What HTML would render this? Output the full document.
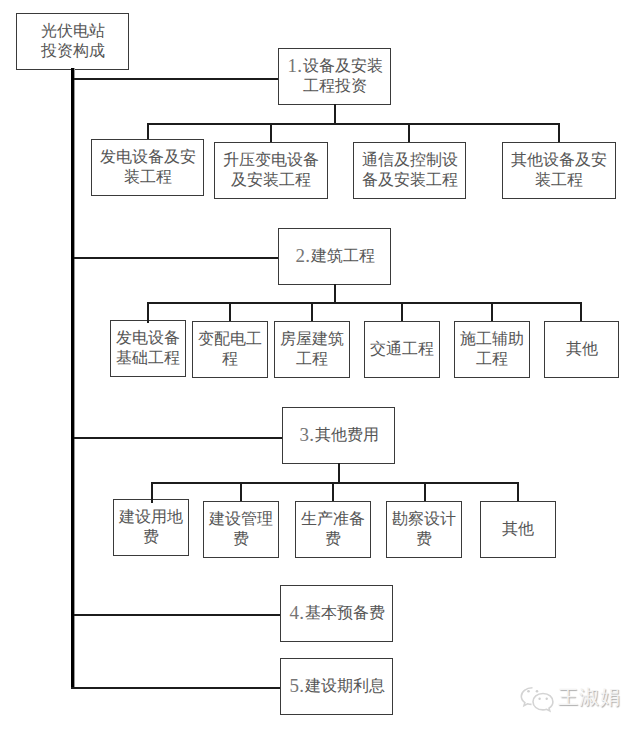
<!DOCTYPE html>
<html><head><meta charset="utf-8"><style>
html,body{margin:0;padding:0;background:#fff;width:640px;height:731px;overflow:hidden}
body{position:relative;font-family:"Liberation Serif",serif}
.b{position:absolute;box-sizing:border-box;border:1px solid #3a3a3a;display:flex;align-items:center;justify-content:center;text-align:center;color:#555;font-size:16px;line-height:20px;background:#fff}
.b>div{position:relative;top:-1px}
.n{color:#757575;font-size:19px;letter-spacing:0.4px;padding-left:1px;line-height:1px;position:relative;top:1px}
i{position:absolute;background:#1c1c1c;display:block}
.wm{position:absolute;left:558px;top:684px;height:26px;line-height:26px;color:#f4f4f4;font-family:"Liberation Sans",sans-serif;font-size:20px;letter-spacing:1px;text-shadow:0.5px 0.5px 1px #aaa}
</style></head><body>
<div class="b" style="left:16px;top:13px;width:113px;height:57px"><div>光伏电站<br>投资构成</div></div>
<div class="b" style="left:278px;top:48px;width:113px;height:57px"><div><span class="n">1.</span>设备及安装<br>工程投资</div></div>
<div class="b" style="left:91px;top:139px;width:113px;height:57px"><div>发电设备及安<br>装工程</div></div>
<div class="b" style="left:214px;top:142px;width:114px;height:57px"><div>升压变电设备<br>及安装工程</div></div>
<div class="b" style="left:353px;top:142px;width:113px;height:57px"><div>通信及控制设<br>备及安装工程</div></div>
<div class="b" style="left:502px;top:142px;width:114px;height:57px"><div>其他设备及安<br>装工程</div></div>
<div class="b" style="left:278px;top:228px;width:113px;height:57px"><div><span class="n">2.</span>建筑工程</div></div>
<div class="b" style="left:110px;top:320px;width:76px;height:57px"><div>发电设备<br>基础工程</div></div>
<div class="b" style="left:192px;top:321px;width:76px;height:57px"><div>变配电工<br>程</div></div>
<div class="b" style="left:274px;top:321px;width:76px;height:57px"><div>房屋建筑<br>工程</div></div>
<div class="b" style="left:364px;top:321px;width:76px;height:57px"><div>交通工程</div></div>
<div class="b" style="left:454px;top:321px;width:76px;height:57px"><div>施工辅助<br>工程</div></div>
<div class="b" style="left:544px;top:321px;width:75px;height:57px"><div>其他</div></div>
<div class="b" style="left:282px;top:407px;width:113px;height:57px"><div><span class="n">3.</span>其他费用</div></div>
<div class="b" style="left:113px;top:499px;width:76px;height:57px"><div>建设用地<br>费</div></div>
<div class="b" style="left:203px;top:501px;width:76px;height:57px"><div>建设管理<br>费</div></div>
<div class="b" style="left:295px;top:501px;width:76px;height:57px"><div>生产准备<br>费</div></div>
<div class="b" style="left:386px;top:501px;width:76px;height:57px"><div>勘察设计<br>费</div></div>
<div class="b" style="left:480px;top:501px;width:76px;height:57px"><div>其他</div></div>
<div class="b" style="left:280px;top:585px;width:113px;height:57px"><div><span class="n">4.</span>基本预备费</div></div>
<div class="b" style="left:280px;top:658px;width:113px;height:57px"><div><span class="n">5.</span>建设期利息</div></div>
<i style="left:71px;top:68px;width:3px;height:621px;background:#000"></i>
<i style="left:74px;top:68px;width:1px;height:621px;background:#9a9a9a"></i>
<i style="left:74px;top:78px;width:204px;height:2px"></i>
<i style="left:334px;top:104px;width:2px;height:20px"></i>
<i style="left:147px;top:123px;width:413px;height:2px"></i>
<i style="left:147px;top:123px;width:2px;height:16px"></i>
<i style="left:270px;top:123px;width:2px;height:19px"></i>
<i style="left:408px;top:123px;width:2px;height:19px"></i>
<i style="left:558px;top:123px;width:2px;height:19px"></i>
<i style="left:74px;top:257px;width:204px;height:2px"></i>
<i style="left:334px;top:284px;width:2px;height:19px"></i>
<i style="left:147px;top:302px;width:435px;height:2px"></i>
<i style="left:147px;top:302px;width:2px;height:21px"></i>
<i style="left:229px;top:302px;width:2px;height:19px"></i>
<i style="left:311px;top:302px;width:2px;height:19px"></i>
<i style="left:401px;top:302px;width:2px;height:19px"></i>
<i style="left:491px;top:302px;width:2px;height:19px"></i>
<i style="left:580px;top:302px;width:2px;height:19px"></i>
<i style="left:74px;top:437px;width:208px;height:2px"></i>
<i style="left:338px;top:463px;width:2px;height:20px"></i>
<i style="left:151px;top:482px;width:367px;height:2px"></i>
<i style="left:151px;top:482px;width:2px;height:21px"></i>
<i style="left:240px;top:482px;width:2px;height:19px"></i>
<i style="left:332px;top:482px;width:2px;height:19px"></i>
<i style="left:424px;top:482px;width:2px;height:19px"></i>
<i style="left:517px;top:482px;width:2px;height:19px"></i>
<i style="left:74px;top:614px;width:206px;height:2px"></i>
<i style="left:71px;top:687px;width:209px;height:2px"></i>
<svg style="position:absolute;left:515px;top:683px" width="45" height="34" viewBox="0 0 45 34">
<g fill="#fff" stroke="#d4d4d4" stroke-width="1.6">
<path d="M17.5 4.8c-6.5 0-11.2 3.8-11.2 8.5 0 2.6 1.4 4.8 3.6 6.3l-0.9 3 3.5-1.8c1.2 0.4 2.6 0.6 4 0.6"/>
<path d="M28 10.5c-6 0-10 3.7-10 8.2s4 8.2 10 8.2c1.3 0 2.5-0.2 3.6-0.6l3.2 1.7-0.8-2.8c2.3-1.5 3.9-3.7 3.9-6.5 0-4.5-4-8.2-9.9-8.2z"/>
</g>
<g fill="#d0d0d0"><circle cx="13.5" cy="8.3" r="1.3"/><circle cx="22" cy="8.3" r="1.3"/><circle cx="24.6" cy="15.8" r="1.2"/><circle cx="31.7" cy="15.8" r="1.2"/></g>
</svg>
<div class="wm">王淑娟</div>
</body></html>
